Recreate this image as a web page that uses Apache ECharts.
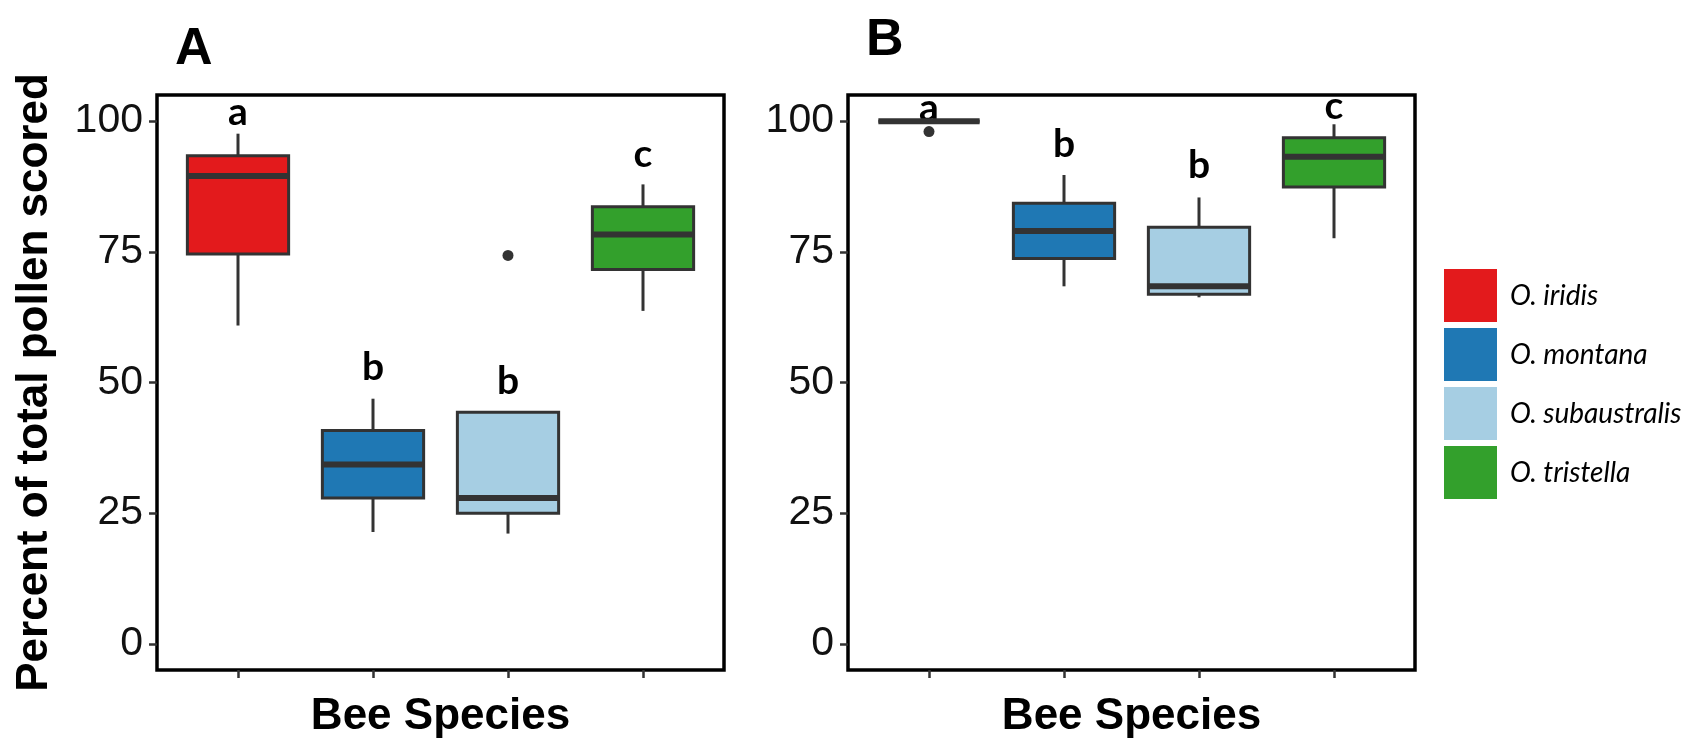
<!DOCTYPE html>
<html>
<head>
<meta charset="utf-8">
<script src="https://cdn.jsdelivr.net/npm/echarts@6/dist/echarts.min.js"></script>
<style>
  html, body { margin: 0; padding: 0; background: #fff; }
  #chart { width: 1699px; height: 744px; }
</style>
</head>
<body>
<div id="chart"></div>
<script>
// Bee species and their fill colours
const species = ['O. iridis', 'O. montana', 'O. subaustralis', 'O. tristella'];
const speciesColors = ['#E31A1C', '#1F78B4', '#A6CEE3', '#33A02C'];

// Box statistics per species: [lower whisker, Q1, median, Q3, upper whisker]
const statsA = [
  [60.9, 74.6, 89.5, 93.4, 97.6],
  [21.4, 27.9, 34.3, 40.8, 46.9],
  [21.1, 25.0, 27.9, 44.3, 44.3],
  [63.7, 71.6, 78.3, 83.6, 87.9]
];
const statsB = [
  [100, 100, 100, 100, 100],
  [68.4, 73.7, 79.0, 84.3, 89.7],
  [66.3, 66.9, 68.4, 79.7, 85.4],
  [77.6, 87.4, 93.2, 96.8, 99.4]
];

// Outlying points: [species index, value]
const outliersA = [[2, 74.3]];
const outliersB = [[0, 98.0]];

// Significance group letters and their heights
const lettersA = ['a', 'b', 'b', 'c'];
const letterYA = [101.6, 52.8, 50.3, 93.7];
const lettersB = ['a', 'b', 'b', 'c'];
const letterYB = [102.4, 95.5, 91.5, 102.9];

// Axis ticks
const yTicks = [0, 25, 50, 75, 100];
const xTicks = [0, 1, 2, 3];

const boxColor = '#333333';
const axisFont = 'Liberation Sans, Arial, sans-serif';
const letterFont = 'Lato, Open Sans, sans-serif';

function renderBox(params, api) {
  const x = api.value(0);
  const lo = api.coord([x, api.value(1)]);
  const q1 = api.coord([x, api.value(2)]);
  const md = api.coord([x, api.value(3)]);
  const q3 = api.coord([x, api.value(4)]);
  const hi = api.coord([x, api.value(5)]);
  const half = api.size([0.75, 0])[0] / 2;
  const cx = lo[0];
  const fill = api.visual('color');
  return {
    type: 'group',
    children: [
      { type: 'line', shape: { x1: cx, y1: hi[1], x2: cx, y2: q3[1] },
        style: { stroke: boxColor, lineWidth: 3 } },
      { type: 'line', shape: { x1: cx, y1: q1[1], x2: cx, y2: lo[1] },
        style: { stroke: boxColor, lineWidth: 3 } },
      { type: 'rect', shape: { x: cx - half, y: q3[1], width: 2 * half, height: q1[1] - q3[1] },
        style: { fill: fill, stroke: boxColor, lineWidth: 3 } },
      { type: 'line', shape: { x1: cx - half, y1: md[1], x2: cx + half, y2: md[1] },
        style: { stroke: boxColor, lineWidth: 6 } }
    ]
  };
}

function boxSeries(stats, panel) {
  return stats.map((s, i) => ({
    type: 'custom',
    name: species[i],
    xAxisIndex: panel,
    yAxisIndex: panel,
    itemStyle: { color: speciesColors[i] },
    renderItem: renderBox,
    encode: { x: 0, y: [1, 2, 3, 4, 5] },
    data: [[i].concat(s)],
    silent: true,
    z: 2
  }));
}

function outlierSeries(points, panel) {
  return {
    type: 'scatter',
    xAxisIndex: panel,
    yAxisIndex: panel,
    symbolSize: 11,
    itemStyle: { color: boxColor, opacity: 1 },
    data: points,
    silent: true,
    z: 3
  };
}

function letterSeries(letters, ys, panel) {
  return {
    type: 'scatter',
    xAxisIndex: panel,
    yAxisIndex: panel,
    symbolSize: 0,
    itemStyle: { color: '#000', opacity: 1 },
    data: letters.map((t, i) => ({ name: t, value: [i, ys[i]] })),
    label: {
      show: true,
      position: 'inside',
      formatter: '{b}',
      fontFamily: letterFont,
      fontWeight: 'bold',
      fontSize: 39,
      color: '#000',
      textBorderWidth: 0,
      opacity: 1
    },
    silent: true,
    z: 1
  };
}

function xAxisFor(panel) {
  return {
    type: 'value',
    gridIndex: panel,
    min: -0.6,
    max: 3.6,
    name: 'Bee Species',
    nameLocation: 'middle',
    nameGap: 25,
    nameTextStyle: { fontFamily: axisFont, fontWeight: 'bold', fontSize: 44, color: '#000', verticalAlign: 'top' },
    axisLine: { show: false, onZero: false },
    axisTick: { show: true, length: 8, lineStyle: { color: boxColor, width: 2.5 }, customValues: xTicks },
    axisLabel: { show: false },
    splitLine: { show: false }
  };
}

function yAxisFor(panel) {
  const ax = {
    type: 'value',
    gridIndex: panel,
    min: -5,
    max: 105,
    axisLine: { show: false, onZero: false },
    axisTick: { show: true, length: 8, lineStyle: { color: boxColor, width: 2.5 }, customValues: yTicks },
    axisLabel: { show: true, margin: 14, fontFamily: axisFont, fontSize: 41, color: '#111',
                 padding: [8, 0, 0, 0], customValues: yTicks },
    splitLine: { show: false }
  };
  if (panel === 0) {
    ax.name = 'Percent of total pollen scored';
    ax.nameLocation = 'middle';
    ax.nameRotate = 90;
    ax.nameGap = 100;
    ax.nameTextStyle = { fontFamily: axisFont, fontWeight: 'bold', fontSize: 44, color: '#000' };
  }
  return ax;
}

const chart = echarts.init(document.getElementById('chart'), null, { renderer: 'canvas' });

chart.setOption({
  animation: false,
  backgroundColor: '#fff',
  graphic: [
    { type: 'text', left: 175, top: 24, style: { text: 'A', font: 'bold 52px Liberation Sans, Arial, sans-serif', fill: '#000' } },
    { type: 'text', left: 866, top: 15, style: { text: 'B', font: 'bold 52px Liberation Sans, Arial, sans-serif', fill: '#000' } }
  ],
  grid: [
    { left: 157, top: 95, width: 567, height: 590, show: true, borderColor: '#000', borderWidth: 3.5, backgroundColor: '#fff' },
    { left: 848, top: 95, width: 567, height: 590, show: true, borderColor: '#000', borderWidth: 3.5, backgroundColor: '#fff' }
  ],
  legend: {
    data: species,
    orient: 'vertical',
    left: 1444,
    top: 269,
    padding: 0,
    icon: 'rect',
    itemWidth: 53,
    itemHeight: 53,
    itemGap: 6,
    itemStyle: { borderWidth: 0 },
    selectedMode: false,
    textStyle: { fontFamily: letterFont, fontStyle: 'italic', fontSize: 28, color: '#000', padding: [0, 0, 0, 8] }
  },
  xAxis: [xAxisFor(0), xAxisFor(1)],
  yAxis: [yAxisFor(0), yAxisFor(1)],
  series: [].concat(
    boxSeries(statsA, 0),
    boxSeries(statsB, 1),
    [outlierSeries(outliersA, 0), outlierSeries(outliersB, 1)],
    [letterSeries(lettersA, letterYA, 0), letterSeries(lettersB, letterYB, 1)]
  )
});
</script>
</body>
</html>
